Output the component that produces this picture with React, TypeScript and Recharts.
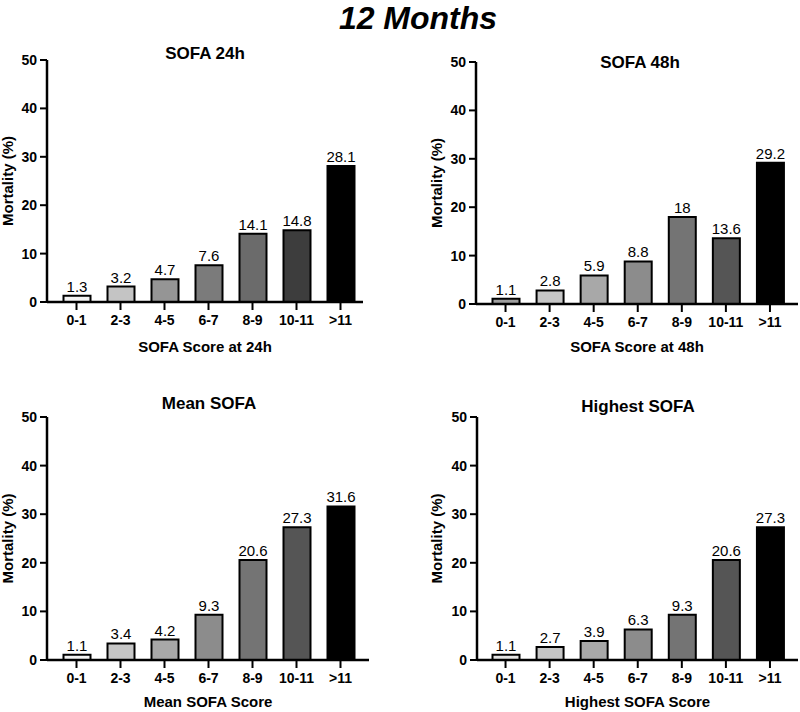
import { BarChart, Bar, XAxis, YAxis, Cell, LabelList } from "recharts";

const categories = ["0-1", "2-3", "4-5", "6-7", "8-9", "10-11", ">11"];
const sofa24h = [1.3, 3.2, 4.7, 7.6, 14.1, 14.8, 28.1];
const sofa48h = [1.1, 2.8, 5.9, 8.8, 18, 13.6, 29.2];
const meanSofa = [1.1, 3.4, 4.2, 9.3, 20.6, 27.3, 31.6];
const highestSofa = [1.1, 2.7, 3.9, 6.3, 9.3, 20.6, 27.3];
const yTicks = [0, 10, 20, 30, 40, 50];

const FONT = '"Liberation Sans", Arial, sans-serif';

type Panel = {
  title: string;
  xLabel: string;
  values: number[];
  colors: string[];
  // layout
  left: number;
  top: number;
  height: number;
  m: { top: number; right: number; bottom: number };
  yWidth: number;
  xHeight: number;
  pad: { left: number; right: number };
  yLabelX: number;
  titleX: number;
  titleY: number;
};

const panels: Panel[] = [
  {
    title: "SOFA 24h",
    xLabel: "SOFA Score at 24h",
    values: sofa24h,
    colors: ["#f4f4f4", "#c4c4c4", "#959595", "#7b7b7b", "#6b6b6b", "#3d3d3d", "#000000"],
    left: 0, top: 0, height: 360,
    m: { top: 60, right: 37, bottom: 8 },
    yWidth: 47, xHeight: 50,
    pad: { left: 7.5, right: 0.5 },
    yLabelX: 7.5, titleX: 205, titleY: 53,
  },
  {
    title: "SOFA 48h",
    xLabel: "SOFA Score at 48h",
    values: sofa48h,
    colors: ["#a0a0a0", "#c6c6c6", "#a8a8a8", "#8c8c8c", "#747474", "#555555", "#000000"],
    left: 400, top: 0, height: 360,
    m: { top: 62, right: 2, bottom: 8 },
    yWidth: 76, xHeight: 48,
    pad: { left: 7.5, right: 6 },
    yLabelX: 37, titleX: 640, titleY: 62,
  },
  {
    title: "Mean SOFA",
    xLabel: "Mean SOFA Score",
    values: meanSofa,
    colors: ["#f4f4f4", "#c6c6c6", "#a8a8a8", "#8c8c8c", "#747474", "#555555", "#000000"],
    left: 0, top: 360, height: 352,
    m: { top: 57, right: 31, bottom: 5 },
    yWidth: 47, xHeight: 47,
    pad: { left: 7.5, right: 6.5 },
    yLabelX: 7.5, titleX: 209, titleY: 403,
  },
  {
    title: "Highest SOFA",
    xLabel: "Highest SOFA Score",
    values: highestSofa,
    colors: ["#e4e4e4", "#c6c6c6", "#a8a8a8", "#8c8c8c", "#747474", "#555555", "#000000"],
    left: 400, top: 360, height: 352,
    m: { top: 57, right: 2, bottom: 5 },
    yWidth: 77, xHeight: 47,
    pad: { left: 6.5, right: 6 },
    yLabelX: 37, titleX: 638, titleY: 406,
  },
];

function Title({ text, x, y, size, italic }: { text: string; x: number; y: number; size: number; italic?: boolean }) {
  return (
    <div
      style={{
        position: "absolute",
        left: x,
        top: y,
        transform: "translate(-50%, -50%)",
        fontSize: size,
        fontWeight: 700,
        fontStyle: italic ? "italic" : "normal",
        lineHeight: 1,
        whiteSpace: "nowrap",
        color: "#000",
      }}
    >
      {text}
    </div>
  );
}

function SofaPanel({ p }: { p: Panel }) {
  const data = categories.map((c, i) => ({ cat: c, value: p.values[i] }));
  return (
    <div style={{ position: "absolute", left: p.left, top: p.top }}>
      <BarChart
        width={400}
        height={p.height}
        data={data}
        margin={{ top: p.m.top, right: p.m.right, bottom: p.m.bottom, left: 0 }}
      >
        <XAxis
          dataKey="cat"
          height={p.xHeight}
          padding={p.pad}
          axisLine={{ stroke: "#000", strokeWidth: 2.5 }}
          tickLine={{ stroke: "#000", strokeWidth: 2 }}
          tickSize={8}
          tickMargin={5}
          interval={0}
          tick={{ fill: "#000", fontSize: 14, fontWeight: 700, fontFamily: FONT }}
          label={{
            value: p.xLabel,
            position: "insideBottom",
            offset: 0,
            style: { fill: "#000", fontSize: 15, fontWeight: 700, fontFamily: FONT },
          }}
        />
        <YAxis
          domain={[0, 50]}
          ticks={yTicks}
          width={p.yWidth}
          axisLine={{ stroke: "#000", strokeWidth: 2.5 }}
          tickLine={{ stroke: "#000", strokeWidth: 2 }}
          tickSize={7}
          tickMargin={3}
          tick={{ fill: "#000", fontSize: 14, fontWeight: 700, fontFamily: FONT }}
          label={{
            value: "Mortality (%)",
            angle: -90,
            position: "insideLeft",
            offset: p.yLabelX,
            style: { fill: "#000", fontSize: 15, fontWeight: 700, fontFamily: FONT, textAnchor: "middle" },
          }}
        />
        <Bar dataKey="value" barSize={27} stroke="#000" strokeWidth={2} isAnimationActive={false}>
          {data.map((d, i) => (
            <Cell key={d.cat} fill={p.colors[i]} />
          ))}
          <LabelList
            dataKey="value"
            position="top"
            offset={4}
            style={{ fill: "#000", fontSize: 15, fontFamily: FONT, stroke: "none" }}
          />
        </Bar>
      </BarChart>
    </div>
  );
}

export default function App() {
  return (
    <div
      style={{
        position: "absolute",
        left: 0,
        top: 0,
        width: 800,
        height: 712,
        background: "#fff",
        fontFamily: FONT,
      }}
    >
      {panels.map((p) => (
        <SofaPanel key={p.title} p={p} />
      ))}
      <div
        style={{
          position: "absolute",
          left: 418,
          top: 2,
          transform: "translateX(-50%)",
          fontSize: 32,
          fontWeight: 700,
          fontStyle: "italic",
          lineHeight: 1,
          whiteSpace: "nowrap",
        }}
      >
        12 Months
      </div>
      {panels.map((p) => (
        <Title key={p.title} text={p.title} x={p.titleX} y={p.titleY} size={17} />
      ))}
    </div>
  );
}
